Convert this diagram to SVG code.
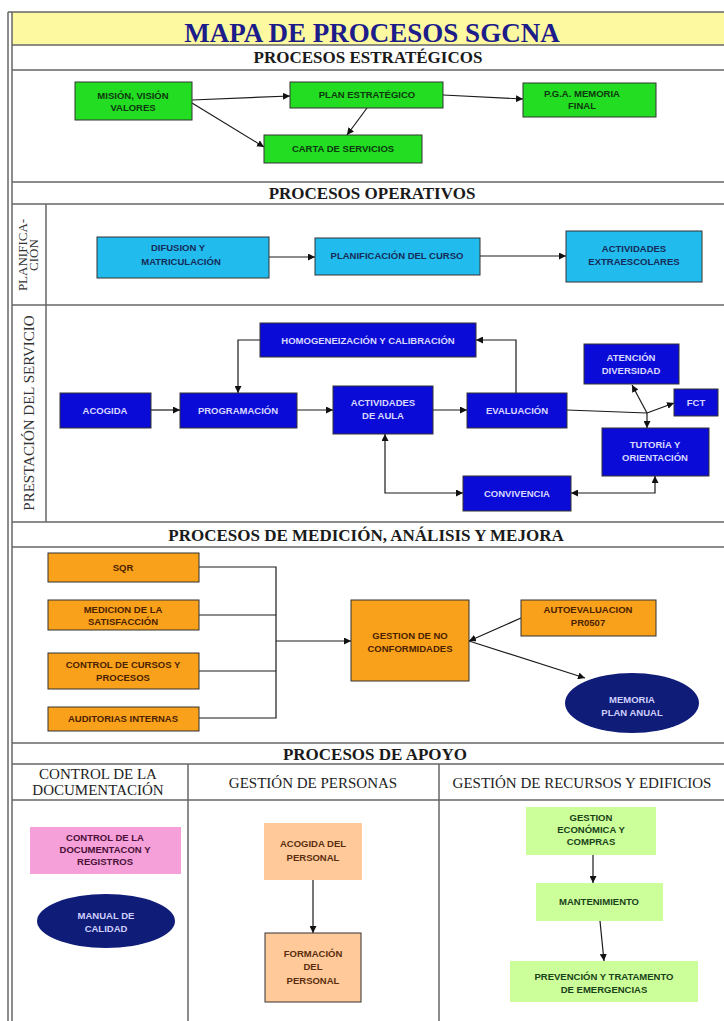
<svg xmlns="http://www.w3.org/2000/svg" width="724" height="1021" viewBox="0 0 724 1021">
<defs>
<marker id="arr" viewBox="0 0 10 10" refX="10" refY="5" markerWidth="7" markerHeight="7" markerUnits="userSpaceOnUse" orient="auto-start-reverse">
<path d="M0,0 L10,5 L0,10 z" fill="#111"/>
</marker>
<style>
.frame{stroke:#666;stroke-width:1.5;fill:none}
.hdr{font-family:"Liberation Serif","Times New Roman",serif;font-weight:bold;font-size:17px;fill:#1a1a1a;text-anchor:middle}
.sub{font-family:"Liberation Serif","Times New Roman",serif;font-size:15px;fill:#222;text-anchor:middle}
.vlab{font-family:"Liberation Serif","Times New Roman",serif;fill:#333;text-anchor:middle}
.bx{stroke:#333;stroke-width:1}
.t{font-family:"Liberation Sans Narrow","Liberation Sans",Arial,sans-serif;font-weight:bold;font-size:9.5px;text-anchor:middle}
.green{fill:#22dd22}.gt{fill:#0e380e}
.cyan{fill:#22bbee}.ct{fill:#152c58}
.blue{fill:#0b0bd8}.bt{fill:#d8d8ff}
.orange{fill:#f9a11b}.ot{fill:#4a2200}
.navy{fill:#0f1c78}.nt{fill:#d0d0ff}
.pink{fill:#f5a0d8}.pt{fill:#4a1038}
.lorange{fill:#ffc99a}.lot{fill:#5a2e0e}
.lgreen{fill:#ccff99}.lgt{fill:#1a421a}
.cn{stroke:#1a1a1a;stroke-width:1.2;fill:none}
</style>
</defs>

<g id="frame">
<rect x="12" y="12" width="712" height="33" fill="#fdf9a0"/>
<line class="frame" x1="8" y1="12" x2="8" y2="1021"/>
<line class="frame" x1="12" y1="12" x2="12" y2="1021"/>
<line class="frame" x1="8" y1="12" x2="724" y2="12"/>
<line class="frame" x1="12" y1="45" x2="724" y2="45"/>
<line class="frame" x1="12" y1="70" x2="724" y2="70"/>
<line class="frame" x1="12" y1="182" x2="724" y2="182"/>
<line class="frame" x1="12" y1="204" x2="724" y2="204"/>
<line class="frame" x1="12" y1="305" x2="724" y2="305"/>
<line class="frame" x1="12" y1="522" x2="724" y2="522"/>
<line class="frame" x1="12" y1="547" x2="724" y2="547"/>
<line class="frame" x1="12" y1="743" x2="724" y2="743"/>
<line class="frame" x1="12" y1="764" x2="724" y2="764"/>
<line class="frame" x1="12" y1="800" x2="724" y2="800"/>
<line class="frame" x1="46" y1="204" x2="46" y2="522"/>
<line class="frame" x1="188" y1="764" x2="188" y2="1021"/>
<line class="frame" x1="439" y1="764" x2="439" y2="1021"/>
</g>

<g id="headers">
<text x="372" y="42" font-family="'Liberation Serif','Times New Roman',serif" font-weight="bold" font-size="27" fill="#1c1c8a" text-anchor="middle">MAPA DE PROCESOS SGCNA</text>
<text class="hdr" x="368" y="63">PROCESOS ESTRATÉGICOS</text>
<text class="hdr" x="372" y="199">PROCESOS OPERATIVOS</text>
<text class="hdr" x="366" y="541">PROCESOS DE MEDICIÓN, ANÁLISIS Y MEJORA</text>
<text class="hdr" x="375" y="760">PROCESOS DE APOYO</text>
<text class="sub" x="98" y="779">CONTROL DE LA</text>
<text class="sub" x="98" y="795">DOCUMENTACIÓN</text>
<text class="sub" x="313" y="788">GESTIÓN DE PERSONAS</text>
<text class="sub" x="582" y="788">GESTIÓN DE RECURSOS Y EDIFICIOS</text>
<text class="vlab" font-size="13" transform="translate(27,255) rotate(-90)">PLANIFICA-</text>
<text class="vlab" font-size="13" transform="translate(38,255) rotate(-90)">CIÓN</text>
<text class="vlab" font-size="15" transform="translate(34,413) rotate(-90)">PRESTACIÓN DEL SERVICIO</text>
</g>

<g id="connectors">
<line class="cn" x1="192" y1="100" x2="290" y2="96" marker-end="url(#arr)"/>
<line class="cn" x1="192" y1="103" x2="264" y2="147" marker-end="url(#arr)"/>
<line class="cn" x1="367" y1="108" x2="347" y2="135" marker-end="url(#arr)"/>
<line class="cn" x1="443" y1="95" x2="523" y2="99" marker-end="url(#arr)"/>

<line class="cn" x1="269" y1="257" x2="315" y2="257" marker-end="url(#arr)"/>
<line class="cn" x1="480" y1="256" x2="566" y2="256" marker-end="url(#arr)"/>

<line class="cn" x1="151" y1="410" x2="180" y2="410" marker-end="url(#arr)"/>
<line class="cn" x1="297" y1="410" x2="333" y2="410" marker-end="url(#arr)"/>
<line class="cn" x1="433" y1="410" x2="467" y2="410" marker-end="url(#arr)"/>
<polyline class="cn" points="516,393 516,340 476,340" marker-end="url(#arr)"/>
<polyline class="cn" points="260,340 238,340 238,393" marker-end="url(#arr)"/>
<polyline class="cn" points="567,410 647,413"/>
<line class="cn" x1="647" y1="413" x2="632" y2="385" marker-end="url(#arr)"/>
<line class="cn" x1="647" y1="413" x2="674" y2="403" marker-end="url(#arr)"/>
<line class="cn" x1="647" y1="413" x2="647" y2="428" marker-end="url(#arr)"/>
<polyline class="cn" points="385,434 385,493 463,493" marker-start="url(#arr)" marker-end="url(#arr)"/>
<polyline class="cn" points="571,493 655,493 655,476" marker-start="url(#arr)" marker-end="url(#arr)"/>

<polyline class="cn" points="199,567 276,567 276,718 199,718"/>
<line class="cn" x1="199" y1="615" x2="276" y2="615"/>
<line class="cn" x1="199" y1="671" x2="276" y2="671"/>
<line class="cn" x1="276" y1="641" x2="351" y2="641" marker-end="url(#arr)"/>
<line class="cn" x1="521" y1="618" x2="469" y2="641" marker-end="url(#arr)"/>
<line class="cn" x1="469" y1="641" x2="585" y2="678" marker-end="url(#arr)"/>

<line class="cn" x1="313" y1="880" x2="313" y2="933" marker-end="url(#arr)"/>
<line class="cn" x1="593" y1="855" x2="593" y2="883" marker-end="url(#arr)"/>
<line class="cn" x1="600" y1="921" x2="604" y2="961" marker-end="url(#arr)"/>
</g>

<g id="mision"><rect class="bx green" x="75" y="82" width="117" height="38"/><text class="t gt" x="133" y="99">MISIÓN, VISIÓN</text><text class="t gt" x="133" y="111">VALORES</text></g>
<g id="plan"><rect class="bx green" x="290" y="82" width="153" height="26"/><text class="t gt" x="367" y="98">PLAN ESTRATÉGICO</text></g>
<g id="pga"><rect class="bx green" x="523" y="83" width="133" height="34"/><text class="t gt" x="582" y="97">P.G.A. MEMORIA</text><text class="t gt" x="582" y="109">FINAL</text></g>
<g id="carta"><rect class="bx green" x="264" y="135" width="158" height="28"/><text class="t gt" x="343" y="152">CARTA DE SERVICIOS</text></g>

<g id="difusion"><rect class="bx cyan" x="97" y="237" width="172" height="41"/><text class="t ct" x="178" y="251">DIFUSION Y</text><text class="t ct" x="181" y="265">MATRICULACIÓN</text></g>
<g id="planificacion"><rect class="bx cyan" x="315" y="238" width="165" height="37"/><text class="t ct" x="397" y="259">PLANIFICACIÓN DEL CURSO</text></g>
<g id="extraescolares"><rect class="bx cyan" x="566" y="231" width="136" height="51"/><text class="t ct" x="634" y="252">ACTIVIDADES</text><text class="t ct" x="634" y="265">EXTRAESCOLARES</text></g>

<g id="homogeneizacion"><rect class="bx blue" x="260" y="323" width="216" height="34"/><text class="t bt" x="368" y="344">HOMOGENEIZACIÓN Y CALIBRACIÓN</text></g>
<g id="acogida"><rect class="bx blue" x="60" y="393" width="91" height="35"/><text class="t bt" x="105" y="414">ACOGIDA</text></g>
<g id="programacion"><rect class="bx blue" x="180" y="393" width="117" height="35"/><text class="t bt" x="238" y="414">PROGRAMACIÓN</text></g>
<g id="actaula"><rect class="bx blue" x="333" y="386" width="100" height="48"/><text class="t bt" x="383" y="406">ACTIVIDADES</text><text class="t bt" x="383" y="419">DE AULA</text></g>
<g id="evaluacion"><rect class="bx blue" x="467" y="393" width="100" height="35"/><text class="t bt" x="517" y="414">EVALUACIÓN</text></g>
<g id="atencion"><rect class="bx blue" x="584" y="344" width="95" height="40"/><text class="t bt" x="631" y="361">ATENCIÓN</text><text class="t bt" x="631" y="374">DIVERSIDAD</text></g>
<g id="fct"><rect class="bx blue" x="674" y="389" width="44" height="27"/><text class="t bt" x="696" y="406">FCT</text></g>
<g id="tutoria"><rect class="bx blue" x="602" y="428" width="107" height="48"/><text class="t bt" x="655" y="448">TUTORÍA Y</text><text class="t bt" x="655" y="461">ORIENTACIÓN</text></g>
<g id="convivencia"><rect class="bx blue" x="463" y="476" width="108" height="35"/><text class="t bt" x="517" y="497">CONVIVENCIA</text></g>

<g id="sqr"><rect class="bx orange" x="48" y="553" width="151" height="29"/><text class="t ot" x="123" y="571">SQR</text></g>
<g id="medicion"><rect class="bx orange" x="48" y="600" width="151" height="30"/><text class="t ot" x="123" y="613">MEDICION DE LA</text><text class="t ot" x="123" y="625">SATISFACCIÓN</text></g>
<g id="controlcursos"><rect class="bx orange" x="48" y="653" width="151" height="36"/><text class="t ot" x="123" y="668">CONTROL DE CURSOS Y</text><text class="t ot" x="123" y="681">PROCESOS</text></g>
<g id="auditorias"><rect class="bx orange" x="48" y="707" width="151" height="24"/><text class="t ot" x="123" y="722">AUDITORIAS INTERNAS</text></g>
<g id="gestionnc"><rect class="bx orange" x="351" y="600" width="118" height="81"/><text class="t ot" x="410" y="639">GESTION DE NO</text><text class="t ot" x="410" y="652">CONFORMIDADES</text></g>
<g id="autoevaluacion"><rect class="bx orange" x="521" y="600" width="135" height="36"/><text class="t ot" x="588" y="613">AUTOEVALUACION</text><text class="t ot" x="588" y="626">PR0507</text></g>
<g id="memoria"><ellipse class="navy" cx="632" cy="703" rx="67" ry="30"/><text class="t nt" x="632" y="703">MEMORIA</text><text class="t nt" x="632" y="716">PLAN ANUAL</text></g>

<g id="controldoc"><rect class="pink" x="30" y="827" width="151" height="47"/><text class="t pt" x="105" y="841">CONTROL DE LA</text><text class="t pt" x="105" y="853">DOCUMENTACON Y</text><text class="t pt" x="105" y="865">REGISTROS</text></g>
<g id="manual"><ellipse class="navy" cx="106" cy="921" rx="69" ry="27"/><text class="t nt" x="106" y="919">MANUAL DE</text><text class="t nt" x="106" y="932">CALIDAD</text></g>
<g id="acogidapersonal"><rect class="lorange" x="264" y="823" width="98" height="57"/><text class="t lot" x="313" y="847">ACOGIDA DEL</text><text class="t lot" x="313" y="861">PERSONAL</text></g>
<g id="formacion"><rect class="bx lorange" x="265" y="933" width="96" height="69"/><text class="t lot" x="313" y="957">FORMACIÓN</text><text class="t lot" x="313" y="970">DEL</text><text class="t lot" x="313" y="984">PERSONAL</text></g>
<g id="gestioneconomica"><rect class="lgreen" x="526" y="807" width="130" height="48"/><text class="t lgt" x="591" y="821">GESTION</text><text class="t lgt" x="591" y="833">ECONÓMICA Y</text><text class="t lgt" x="591" y="845">COMPRAS</text></g>
<g id="mantenimiento"><rect class="lgreen" x="536" y="883" width="127" height="38"/><text class="t lgt" x="599" y="905">MANTENIMIENTO</text></g>
<g id="prevencion"><rect class="lgreen" x="510" y="961" width="188" height="41"/><text class="t lgt" x="604" y="980">PREVENCIÓN Y TRATAMENTO</text><text class="t lgt" x="604" y="993">DE EMERGENCIAS</text></g>
</svg>
